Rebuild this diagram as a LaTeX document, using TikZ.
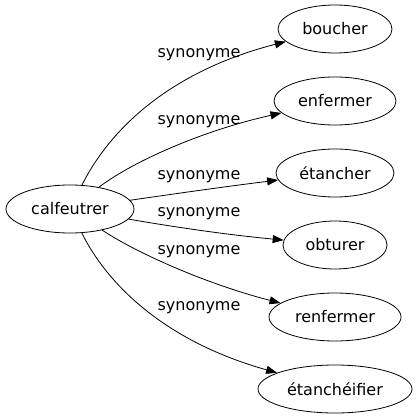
\documentclass[tikz,border=0pt]{standalone}
\usepackage{fontspec}
\setmainfont{DejaVu Sans}
\usetikzlibrary{shapes.geometric, arrows.meta}
\begin{document}
\begin{tikzpicture}[x=1pt, y=-1pt, font=\fontsize{16}{19}\selectfont, line width=0.8pt,
		word/.style = {draw, ellipse, inner sep=0pt, minimum height=48pt},
		syn/.style = {-{Triangle[length=11pt, width=8pt]}},
		lbl/.style = {inner sep=0pt}]
		\useasboundingbox (0,0) rectangle (418,419);
		%Sanat
		\node[word, minimum width=128pt] (calfeutrer) at (70,209) {calfeutrer};
		\node[word, minimum width=114pt] (boucher) at (335,29) {boucher};
		\node[word, minimum width=122pt] (enfermer) at (335,101) {enfermer};
		\node[word, minimum width=118pt] (etancher) at (335,173) {étancher};
		\node[word, minimum width=104pt] (obturer) at (335,245) {obturer};
		\node[word, minimum width=132pt] (renfermer) at (335,317) {renfermer};
		\node[word, minimum width=154pt] (etancheifier) at (335,389) {étanchéifier};
		% Kaaret
		\draw [syn] (calfeutrer) .. controls (112,125) and (175,70) .. (boucher);	% boucher
		\draw [syn] (calfeutrer) .. controls (135,160) and (205,130) .. (enfermer);	% enfermer
		\draw [syn] (calfeutrer) .. controls (180,193) and (230,186) .. (etancher);	% etancher
		\draw [syn] (calfeutrer) .. controls (180,228) and (230,235) .. (obturer);	% obturer
		\draw [syn] (calfeutrer) .. controls (140,255) and (210,285) .. (renfermer);	% renfermer
		\draw [syn] (calfeutrer) .. controls (105,280) and (160,340) .. (etancheifier);	% etancheifier
		% Nimet
		\node[lbl] (l1) at (199,55) {synonyme};
		\node[lbl] (l2) at (199,122) {synonyme};
		\node[lbl] (l3) at (199,177) {synonyme};
		\node[lbl] (l4) at (199,214) {synonyme};
		\node[lbl] (l5) at (199,252) {synonyme};
		\node[lbl] (l6) at (199,308) {synonyme};
		\end{tikzpicture}
\end{document}
